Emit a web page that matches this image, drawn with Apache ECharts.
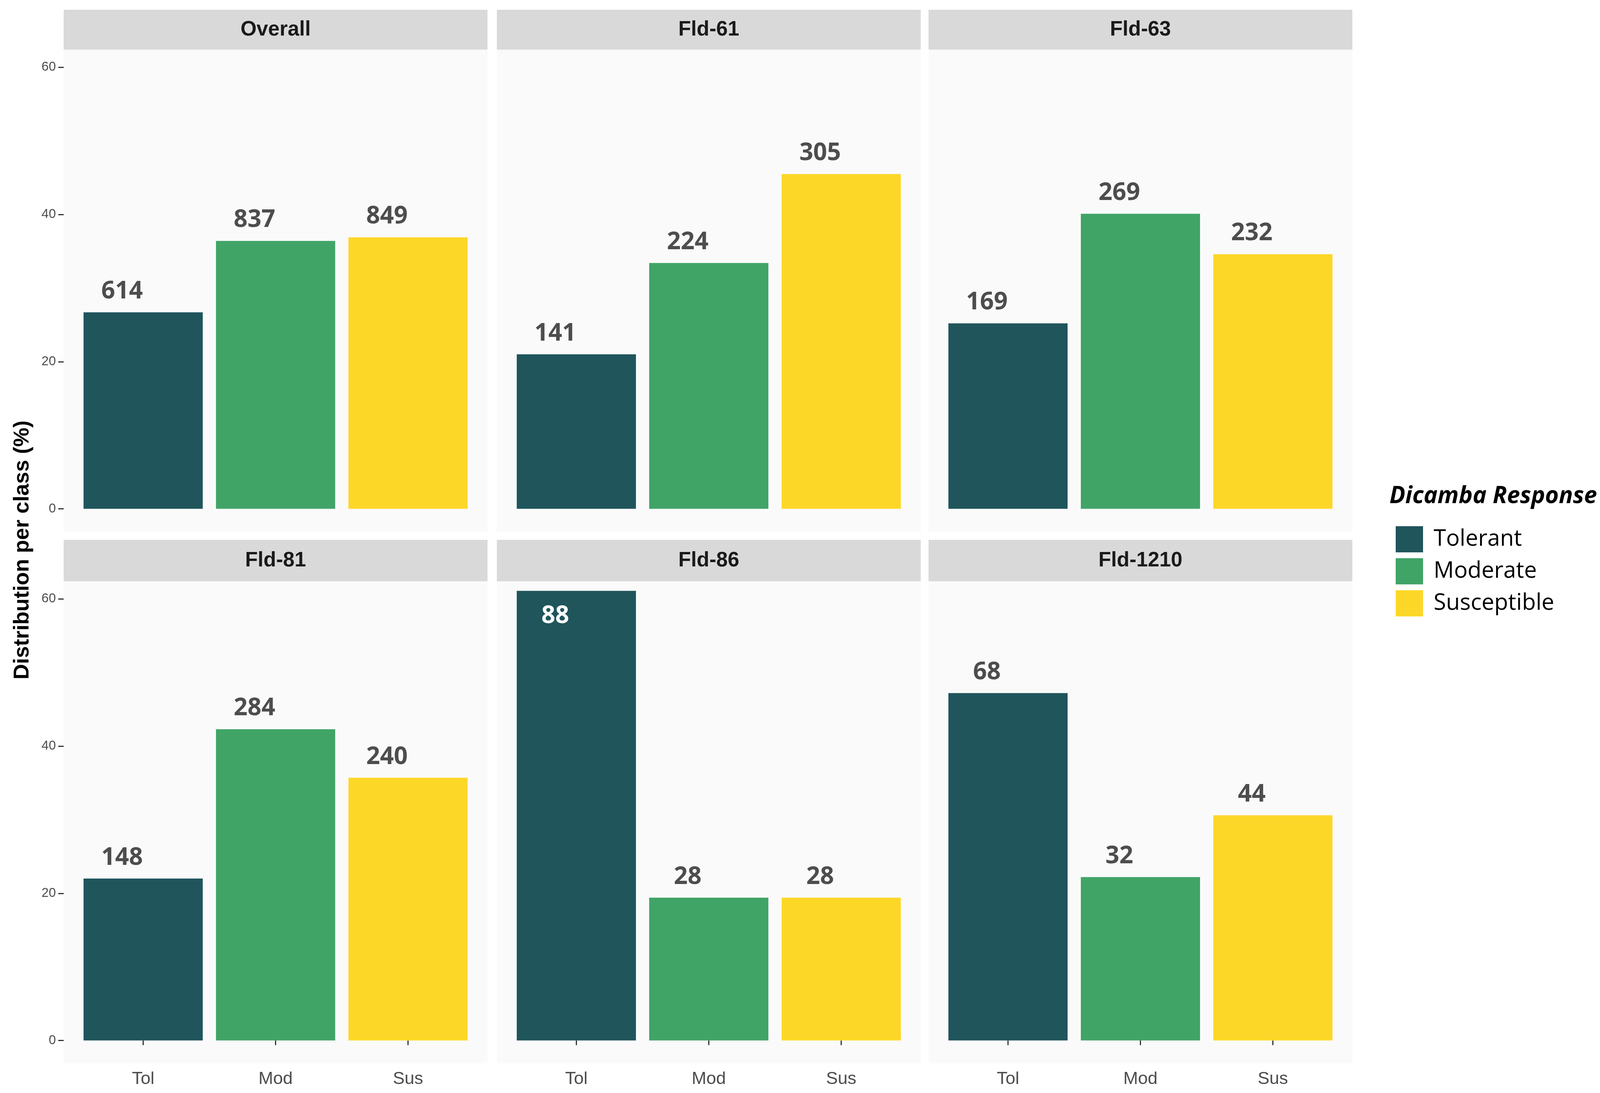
<!DOCTYPE html>
<html>
<head>
<meta charset="utf-8">
<script src="https://cdn.jsdelivr.net/npm/echarts@6/dist/echarts.min.js"></script>
<style>
html,body{margin:0;padding:0;background:#fff;overflow:hidden;width:100%;height:100%;}
#chart{width:100vw;height:100vh;}
</style>
</head>
<body>
<div id="chart"></div>
<script>
// ---- data ----
const panels = ['Overall', 'Fld-61', 'Fld-63', 'Fld-81', 'Fld-86', 'Fld-1210'];
const classes = ['Tol', 'Mod', 'Sus'];
const responses = ['Tolerant', 'Moderate', 'Susceptible'];
const tolerantPct    = [26.7, 21.0, 25.2, 22.0, 61.1, 47.2];
const moderatePct    = [36.4, 33.4, 40.1, 42.3, 19.4, 22.2];
const susceptiblePct = [36.9, 45.5, 34.6, 35.7, 19.4, 30.6];
const tolerantN    = [614, 141, 169, 148, 88, 68];
const moderateN    = [837, 224, 269, 284, 28, 32];
const susceptibleN = [849, 305, 232, 240, 28, 44];
const yTicks = [0, 20, 40, 60];
const yTitle = 'Distribution per class (%)';
const legendTitle = 'Dicamba Response';

// ---- styling / layout ----
const colors = ['#20555C', '#40A467', '#FDD728'];
const pctBy = [tolerantPct, moderatePct, susceptiblePct];
const nBy = [tolerantN, moderateN, susceptibleN];
const colLeft = [163, 1272, 2377];
const panelW = 1085;
const stripTop = [25, 1382];
const panelTop = [127, 1488];
const panelH = 1234;
const unit = panelW / 3.2;
const yMin = -3.1, yMax = 62.4;

const grids = [], xAxes = [], yAxes = [], series = [], graphics = [];

panels.forEach((name, p) => {
  const col = p % 3, row = Math.floor(p / 3);
  const left = colLeft[col];
  const gl = left + 0.1 * unit;
  grids.push({ left: gl, top: panelTop[row], width: 3 * unit, height: panelH, containLabel: false });
  graphics.push({ type: 'rect', z: -10, shape: { x: left, y: panelTop[row], width: panelW, height: panelH }, style: { fill: '#FAFAFA' } });
  graphics.push({ type: 'rect', z: -10, shape: { x: left, y: stripTop[row], width: panelW, height: panelTop[row] - stripTop[row] }, style: { fill: '#D9D9D9' } });
  graphics.push({ type: 'text', z: 10, x: left + panelW / 2, y: (stripTop[row] + panelTop[row]) / 2,
    style: { text: name, fill: '#1A1A1A', font: 'bold 53px "Liberation Sans", Arial, sans-serif', align: 'center', verticalAlign: 'middle' } });

  xAxes.push({
    type: 'category', gridIndex: p, data: classes,
    axisLine: { show: false },
    axisTick: { show: row === 1, alignWithLabel: true, length: 12, lineStyle: { color: '#333', width: 3 } },
    axisLabel: { show: row === 1, margin: 18, fontSize: 45, color: '#4D4D4D', fontFamily: '"Liberation Sans", Arial, sans-serif' },
    splitLine: { show: false }
  });
  yAxes.push({
    type: 'value', gridIndex: p, min: yMin, max: yMax,
    offset: 0.1 * unit,
    axisLine: { show: false },
    axisTick: { show: col === 0, length: 14, customValues: yTicks, lineStyle: { color: '#333', width: 3 } },
    axisLabel: { show: col === 0, customValues: yTicks, margin: 20, fontSize: 33, color: '#4D4D4D', fontFamily: '"Liberation Sans", Arial, sans-serif' },
    splitLine: { show: false }
  });

  responses.forEach((resp, c) => {
    const v = pctBy[c][p];
    const n = nBy[c][p];
    const inside = v > 55;
    const data = classes.map((_, k) => k === c ? {
      value: v,
      label: inside
        ? { position: 'insideTop', distance: 34, color: '#FFFFFF' }
        : { position: 'top', distance: 22, color: '#4D4D4D' }
    } : '-');
    series.push({
      type: 'bar', name: resp, xAxisIndex: p, yAxisIndex: p, stack: 'p' + p,
      barWidth: '90%', data,
      itemStyle: { color: colors[c] },
      label: { show: true, formatter: () => String(n), offset: [-54, 0],
        fontSize: 62, fontWeight: 'bold', fontFamily: '"Open Sans", sans-serif' },
      emphasis: { disabled: true }, animation: false
    });
  });
});

graphics.push({ type: 'text', x: 58, y: 1408, rotation: Math.PI / 2,
  style: { text: yTitle, fill: '#000', font: 'bold 55px "Liberation Sans", Arial, sans-serif', align: 'center', verticalAlign: 'middle' } });

const chart = echarts.init(document.getElementById('chart'), null, { renderer: 'canvas' });
chart.setOption({
  backgroundColor: '#FFFFFF',
  animation: false,
  title: { text: legendTitle, left: 3552, top: 1236,
    textStyle: { fontSize: 60, fontWeight: 'bold', fontStyle: 'italic', color: '#000', fontFamily: '"Open Sans", sans-serif' } },
  legend: {
    data: responses, orient: 'vertical', left: 3568, top: 1342,
    icon: 'rect', itemWidth: 70, itemHeight: 67, itemGap: 15,
    textStyle: { fontSize: 58, color: '#000', fontFamily: '"Open Sans", sans-serif', padding: [0, 0, 0, 22] },
    selectedMode: false
  },
  grid: grids, xAxis: xAxes, yAxis: yAxes, series,
  graphic: graphics
});
</script>
</body>
</html>
